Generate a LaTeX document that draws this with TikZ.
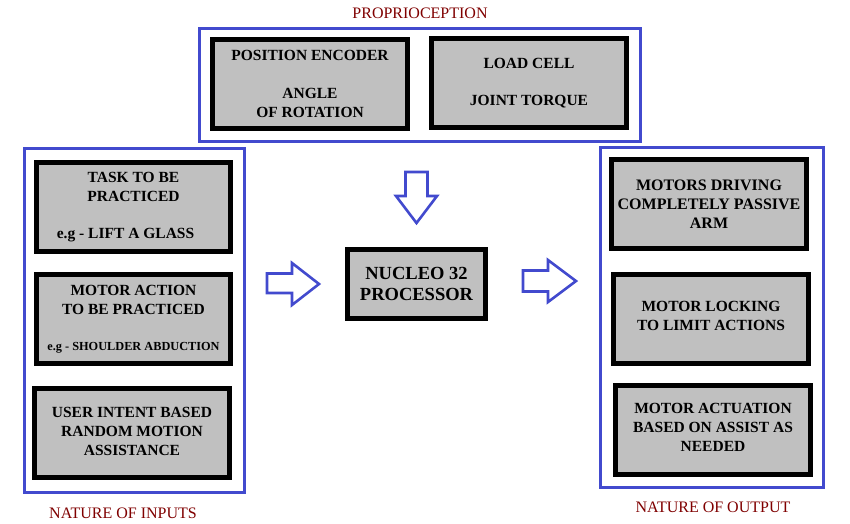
\documentclass[tikz,border=0pt]{standalone}
\usepackage{fontspec}
\setmainfont{Liberation Serif}[BoldFont={Liberation Serif Bold}]
\definecolor{frameblue}{RGB}{66,74,206}
\definecolor{titlered}{RGB}{128,0,0}
\definecolor{boxgray}{RGB}{192,192,192}
\tikzset{
  graybox/.style={draw=black, line width=5pt, fill=boxgray, inner sep=0pt,
    minimum width=195pt, minimum height=89pt, align=center,
    font=\bfseries\fontsize{15.5}{19}\selectfont},
  frame/.style={draw=frameblue, line width=3pt},
  blockarrow/.style={draw=frameblue, line width=2.6pt, fill=white, line join=miter},
  grouptitle/.style={text=titlered, inner sep=0pt, font=\fontsize{16}{19}\selectfont}
}
\begin{document}
\begin{tikzpicture}[x=1pt,y=-1pt]
\useasboundingbox[fill=white] (0,0) rectangle (850,523);

% group frames
\draw[frame] (199.5,28.5) rectangle (640.5,141.5);
\draw[frame] (24.5,148.5) rectangle (244.5,492.5);
\draw[frame] (600.5,147.5) rectangle (823.5,487.5);

% titles
\node[grouptitle] (tprop) at (420,13) {PROPRIOCEPTION};
\node[grouptitle] (tin) at (123,513) {NATURE OF INPUTS};
\node[grouptitle] (tout) at (713,507) {NATURE OF OUTPUT};

% proprioception
\node[graybox] (posenc) at (310,84) {POSITION ENCODER\\[19pt]ANGLE\\OF ROTATION};
\node[graybox] (loadcell) at (529,83) {LOAD CELL\\[18pt]JOINT TORQUE};

% inputs
\node[graybox, minimum width=194pt] (task) at (133.5,207) {TASK TO BE\\PRACTICED\\[18pt]e.g - LIFT A GLASS\hspace*{16pt}};
\node[graybox, minimum width=194pt] (motoract) at (133.5,319) {MOTOR ACTION\\TO BE PRACTICED\\[17pt]{\fontsize{12.3}{15}\selectfont e.g - SHOULDER ABDUCTION}};
\node[graybox, text depth=4pt] (intent) at (132,433) {USER INTENT BASED\\RANDOM MOTION\\ASSISTANCE};

% outputs
\node[graybox, font=\bfseries\fontsize{16}{19}\selectfont] (drive) at (709,204) {MOTORS DRIVING\\COMPLETELY PASSIVE\\ARM};
\node[graybox, text depth=6pt] (lock) at (711,319) {MOTOR LOCKING\\TO LIMIT ACTIONS};
\node[graybox, text depth=6pt] (actuate) at (713,430) {MOTOR ACTUATION\\BASED ON ASSIST AS\\NEEDED};

% processor
\node[graybox, minimum width=138pt, minimum height=69pt, font=\bfseries\fontsize{18.5}{21}\selectfont] (proc) at (416.5,284) {NUCLEO 32\\PROCESSOR};

% block arrows
\draw[blockarrow] (405.5,172) -- (427.5,172) -- (427.5,196) -- (437,196) -- (416.5,223) -- (396,196) -- (405.5,196) -- cycle;
\draw[blockarrow] (267,273.5) -- (292,273.5) -- (292,263) -- (319,284) -- (292,305) -- (292,293) -- (267,293) -- cycle;
\draw[blockarrow] (523,270.5) -- (548,270.5) -- (548,260) -- (576,281) -- (548,302) -- (548,291.5) -- (523,291.5) -- cycle;
\end{tikzpicture}
\end{document}
